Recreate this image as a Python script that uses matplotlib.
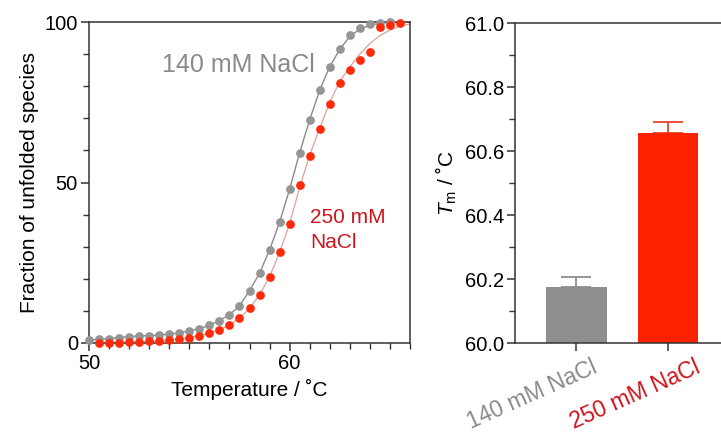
import matplotlib
matplotlib.use("Agg")
import matplotlib.pyplot as plt
import matplotlib.transforms as mtransforms
import numpy as np
from matplotlib.ticker import MultipleLocator, FormatStrFormatter

plt.rcParams['font.family'] = ['Liberation Sans', 'DejaVu Sans']
plt.rcParams['mathtext.fontset'] = 'custom'
plt.rcParams['mathtext.rm'] = 'Liberation Sans'
plt.rcParams['mathtext.it'] = 'Liberation Sans:italic'

# melting curves, 0.5 degree steps
temp_140 = np.arange(50.0, 65.01, 0.5)
frac_140 = [0.9, 1.2, 1.4, 1.7, 2.0, 2.2, 2.3, 2.5, 2.8, 3.2,
            3.8, 4.5, 5.5, 7.0, 8.8, 11.5, 16.3, 21.7, 29.0, 37.6,
            47.9, 59.3, 69.5, 78.8, 86.1, 91.5, 96.0, 98.0, 99.4, 99.8, 100.0]
temp_250 = np.arange(50.5, 65.51, 0.5)
frac_250 = [0.1, 0.1, 0.1, 0.3, 0.4, 0.5, 0.7, 0.9, 1.2, 1.7,
            2.3, 3.1, 4.0, 5.7, 7.7, 10.8, 15.0, 20.6, 28.2, 37.2,
            49.3, 58.3, 66.6, 74.5, 81.1, 85.0, 88.2, 90.8, 98.5, 99.0, 99.6]

# fitted lines
fit_temp = np.arange(50.0, 66.01, 0.5)
fit_140 = [0.9, 1.2, 1.4, 1.7, 2.0, 2.2, 2.3, 2.5, 2.8, 3.2,
           3.8, 4.5, 5.5, 7.0, 8.8, 11.5, 16.3, 21.7, 29.0, 37.6,
           47.9, 59.3, 69.5, 78.8, 86.1, 91.5, 95.5, 97.8, 99.0, 99.6, 99.9, 100.0, 100.0]
fit_250 = [0.1, 0.1, 0.1, 0.1, 0.3, 0.4, 0.5, 0.7, 0.9, 1.2,
           1.7, 2.3, 3.1, 4.0, 5.7, 7.7, 10.8, 15.0, 20.6, 28.2,
           37.2, 48.5, 58.5, 67.0, 75.0, 81.5, 86.0, 90.0, 93.3, 95.8, 97.5, 98.7, 99.4]

# melting temperatures
conditions = ['140 mM NaCl', '250 mM NaCl']
tm_values = [60.177, 60.658]
tm_errors = [0.029, 0.034]

grey = '#959595'
red = '#ff2a0a'
grey_bar = '#8e8e8e'
red_bar = '#ff2200'
grey_text = '#8a8a8a'
red_text = '#d0141e'
spine_col = '#333333'

fig = plt.figure(figsize=(7.21, 4.41), dpi=100)

# ---- left panel: melting curves ----
ax1 = fig.add_axes([89 / 721, 1 - 343 / 441, 321 / 721, 321 / 441])
ax1.plot(fit_temp, fit_140, color='#8a8a8a', lw=1.0, zorder=2)
ax1.plot(fit_temp, fit_250, color='#dba396', lw=0.9, zorder=2)
ax1.plot(temp_140, frac_140, 'o', color=grey, ms=6.3, mew=0, clip_on=False, zorder=3)
ax1.plot(temp_250, frac_250, 'o', color=red, ms=6.3, mew=0, clip_on=False, zorder=4)

ax1.set_xlim(50, 66)
ax1.set_ylim(0, 100)
ax1.xaxis.set_major_locator(MultipleLocator(10))
ax1.xaxis.set_minor_locator(MultipleLocator(1))
ax1.yaxis.set_major_locator(MultipleLocator(50))
ax1.yaxis.set_minor_locator(MultipleLocator(10))
ax1.set_xlabel('Temperature / ˚C', fontsize=15, labelpad=4)
ax1.set_ylabel('Fraction of unfolded species', fontsize=15, labelpad=4)

fig.text(162 / 721, 1 - 72.5 / 441, '140 mM NaCl', fontsize=18, color=grey_text,
         ha='left', va='baseline')
fig.text(310 / 721, 1 - 230 / 441, '250 mM\nNaCl', fontsize=15,
         color=red_text, ha='left', va='center', linespacing=1.45)

# ---- right panel: Tm bars ----
ax2 = fig.add_axes([515 / 721, 1 - 343.3 / 441, 214.5 / 721, 320 / 441])
x = np.arange(len(conditions))
ax2.bar(x, tm_values, width=0.66, color=[grey_bar, red_bar], zorder=2)
ax2.errorbar(x[0], tm_values[0], yerr=[[0], [tm_errors[0]]], color=grey_bar,
             capsize=11, elinewidth=1.3, capthick=1.3, zorder=1)
ax2.errorbar(x[1], tm_values[1], yerr=[[0], [tm_errors[1]]], color='#e8442a',
             capsize=11, elinewidth=1.3, capthick=1.3, zorder=1)
ax2.set_xlim(-0.67, 1.67)
ax2.set_ylim(60.0, 61.0)
ax2.yaxis.set_major_locator(MultipleLocator(0.2))
ax2.yaxis.set_minor_locator(MultipleLocator(0.1))
ax2.yaxis.set_major_formatter(FormatStrFormatter('%.1f'))
ax2.set_xticks(x)
ax2.set_xticklabels(conditions, rotation=24, ha='right')
ax2.set_ylabel(r'$T_\mathrm{m}$ / ˚C', fontsize=15, labelpad=4)

for ax in (ax1, ax2):
    for s in ax.spines.values():
        s.set_color(spine_col)
        s.set_linewidth(1.1)
    ax.tick_params(which='major', length=6, width=1.1, color=spine_col,
                   labelsize=14.5, pad=2)
    ax.tick_params(which='minor', length=4, width=1.0, color=spine_col)
ax2.tick_params(axis='x', pad=3, labelsize=16.5)

# shift the rotated category labels to the right, as in the original
offsets = [24, 36]
for lab, col, off in zip(ax2.get_xticklabels(), [grey_text, red_text], offsets):
    lab.set_color(col)
    lab.set_transform(lab.get_transform() +
                      mtransforms.ScaledTranslation(off / 100, 0, fig.dpi_scale_trans))

fig.savefig('out.png', dpi=100)
